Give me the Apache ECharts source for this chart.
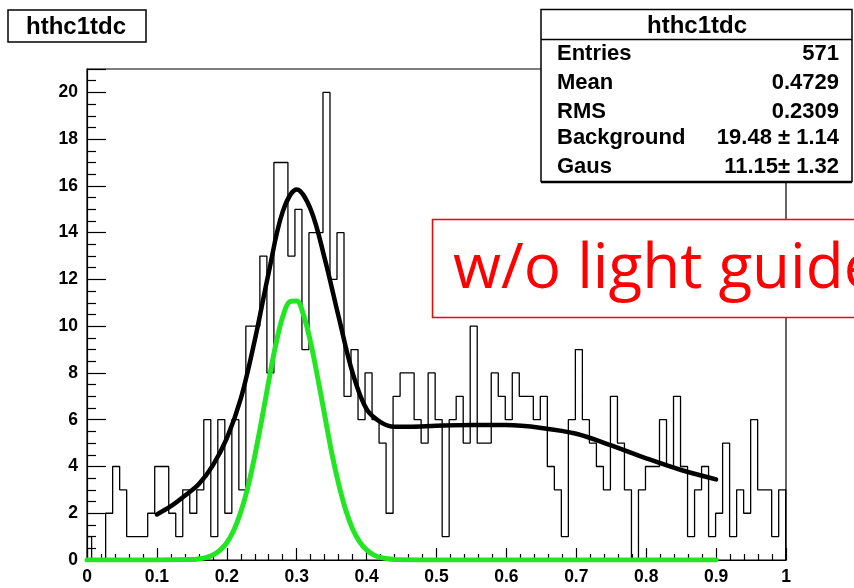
<!DOCTYPE html>
<html>
<head>
<meta charset="utf-8">
<script src="https://cdn.jsdelivr.net/npm/echarts@6/dist/echarts.min.js"></script>
<style>
  html, body { margin: 0; padding: 0; background: #fff; }
  #chart { width: 854px; height: 588px; }
</style>
</head>
<body>
<div id="chart"></div>
<script>
// Histogram hthc1tdc: 99 full bins plus one clipped bin at the left edge
const histName = 'hthc1tdc';
const binStart = 0.0066;     // lower edge of the first full bin
const binWidth = 0.01003;    // bin width
const clippedBinCount = 1;   // content of the partial bin between 0 and binStart
const binCounts = [
  0, 0, 2, 4, 3, 1, 1, 1, 2, 4,
  4, 2, 1, 3, 2, 3, 6, 1, 6, 2,
  6, 3, 10, 10, 13, 8, 17, 17, 13, 15,
  9, 14, 14, 20, 12, 14, 7, 9, 6, 8,
  6, 5, 2, 7, 8, 8, 6, 5, 8, 6,
  1, 6, 7, 5, 10, 5, 5, 8, 7, 6,
  8, 7, 7, 6, 7, 4, 3, 1, 6, 9,
  6, 5, 4, 3, 7, 5, 3, 0, 3, 4,
  4, 6, 4, 7, 4, 1, 3, 4, 1, 2,
  5, 1, 3, 2, 6, 3, 3, 1, 3
];

// Total fit (background + gaussian) over the fit range 0.1 - 0.9
const fitTotalX = [0.10, 0.12, 0.14, 0.16, 0.18, 0.20, 0.22, 0.24, 0.26, 0.28,
                   0.30, 0.32, 0.34, 0.36, 0.38, 0.40, 0.42, 0.44, 0.46, 0.50,
                   0.55, 0.60, 0.65, 0.70, 0.75, 0.80, 0.85, 0.90];
const fitTotalY = [1.95, 2.3, 2.75, 3.25, 4.05, 5.2, 6.9, 9.4, 12.3, 14.9,
                   15.85, 15.0, 12.9, 10.4, 8.0, 6.45, 5.9, 5.7, 5.7, 5.74,
                   5.77, 5.77, 5.65, 5.4, 4.9, 4.35, 3.85, 3.45];

// Gaussian component of the fit, drawn from 0 to 0.9
const gausX = [0.00, 0.10, 0.15, 0.16, 0.17, 0.18, 0.19, 0.20, 0.21, 0.22,
               0.23, 0.24, 0.25, 0.26, 0.27, 0.28, 0.29, 0.30, 0.31, 0.32,
               0.33, 0.34, 0.35, 0.36, 0.37, 0.38, 0.39, 0.40, 0.41, 0.42,
               0.43, 0.44, 0.45, 0.50, 0.90];
const gausY = [0, 0, 0.02, 0.05, 0.1, 0.21, 0.41, 0.74, 1.27, 2.05,
               3.1, 4.45, 6.0, 7.65, 9.2, 10.4, 11.05, 11.08, 10.45, 9.3,
               7.8, 6.2, 4.6, 3.25, 2.15, 1.33, 0.78, 0.43, 0.22, 0.11,
               0.05, 0.02, 0.01, 0, 0];

// Statistics box
const statLabels = ['Entries', 'Mean', 'RMS', 'Background', 'Gaus'];
const statValues = ['571', '0.4729', '0.2309', '19.48 \u00b1 1.14', '11.15\u00b1 1.32'];
const statRowY = [54, 83, 112, 138, 167];

const annotation = 'w/o light guide';

// Step outline of the histogram: one point per lower bin edge
const histPoints = [[0, clippedBinCount]];
binCounts.forEach((c, k) => histPoints.push([binStart + k * binWidth, c]));
histPoints.push([binStart + binCounts.length * binWidth, 0]);

const zip = (xs, ys) => xs.map((x, i) => [x, ys[i]]);

const axisFont = { fontFamily: 'Liberation Sans, Arial, sans-serif', fontWeight: 'bold', fontSize: 17.5, color: '#000' };
const statFont = 'bold 22px "Liberation Sans", Arial, sans-serif';

const chart = echarts.init(document.getElementById('chart'), null, { renderer: 'canvas' });

chart.setOption({
  animation: false,
  backgroundColor: '#fff',
  grid: {
    left: 87, right: 68, top: 69, bottom: 28,
    show: true, borderColor: '#000', borderWidth: 1.2, backgroundColor: 'transparent'
  },
  xAxis: {
    type: 'value', min: 0, max: 1, interval: 0.1,
    axisLine: { show: true, lineStyle: { color: '#000', width: 1.2 } },
    axisTick: { show: true, inside: true, length: 12, lineStyle: { color: '#000', width: 1.2 } },
    minorTick: { show: true, splitNumber: 5, length: 6, lineStyle: { color: '#000', width: 1.2 } },
    splitLine: { show: false },
    axisLabel: Object.assign({ margin: 8, formatter: v => (v === 0 ? '0' : v === 1 ? '1' : v.toFixed(1)) }, axisFont)
  },
  yAxis: {
    type: 'value', min: 0, max: 21, interval: 2,
    axisLine: { show: true, lineStyle: { color: '#000', width: 1.2 } },
    axisTick: { show: true, inside: true, length: 19, lineStyle: { color: '#000', width: 1.2 } },
    minorTick: { show: true, splitNumber: 4, length: 9, lineStyle: { color: '#000', width: 1.2 } },
    splitLine: { show: false },
    axisLabel: Object.assign({ margin: 9, showMaxLabel: false, formatter: v => (v % 2 === 0 ? String(v) : '') }, axisFont)
  },
  series: [
    {
      name: histName, type: 'line', step: 'end', data: histPoints,
      showSymbol: false, symbol: 'none',
      lineStyle: { color: '#000', width: 1.3 }, z: 2
    },
    {
      name: 'total', type: 'line', smooth: 0.35, data: zip(fitTotalX, fitTotalY),
      showSymbol: false, symbol: 'none',
      lineStyle: { color: '#000', width: 4.5, cap: 'round', join: 'round' }, z: 3
    },
    {
      name: 'gaus', type: 'line', smooth: 0.35, data: zip(gausX, gausY),
      showSymbol: false, symbol: 'none',
      lineStyle: { color: '#22e622', width: 5, cap: 'round', join: 'round' }, z: 4
    }
  ],
  graphic: [
    // title box, top left
    { type: 'rect', z: 100, shape: { x: 8, y: 10, width: 138, height: 32 },
      style: { fill: '#fff', stroke: '#000', lineWidth: 1.5 } },
    { type: 'text', z: 101, x: 76, y: 27,
      style: { text: histName, font: 'bold 24px "Liberation Sans", Arial, sans-serif', fill: '#000', align: 'center', verticalAlign: 'middle' } },

    // statistics box
    { type: 'rect', z: 100, shape: { x: 541, y: 9.5, width: 311, height: 172 },
      style: { fill: '#fff', stroke: '#000', lineWidth: 1.5 } },
    { type: 'line', z: 101, shape: { x1: 541, y1: 39.5, x2: 852, y2: 39.5 },
      style: { stroke: '#000', lineWidth: 1.5 } },
    { type: 'line', z: 101, shape: { x1: 541, y1: 182.5, x2: 852, y2: 182.5 },
      style: { stroke: '#000', lineWidth: 1.5 } },
    { type: 'text', z: 101, x: 697, y: 26,
      style: { text: histName, font: 'bold 24px "Liberation Sans", Arial, sans-serif', fill: '#000', align: 'center', verticalAlign: 'middle' } },
    ...statLabels.map((t, i) => ({ type: 'text', z: 101, x: 557, y: statRowY[i],
      style: { text: t, font: statFont, fill: '#000', align: 'left', verticalAlign: 'middle' } })),
    ...statValues.map((t, i) => ({ type: 'text', z: 101, x: 839, y: statRowY[i],
      style: { text: t, font: statFont, fill: '#000', align: 'right', verticalAlign: 'middle' } })),

    // annotation box
    { type: 'rect', z: 100, shape: { x: 432.5, y: 219.5, width: 440, height: 98 },
      style: { fill: '#fff', stroke: '#ff0000', lineWidth: 1.5 } },
    { type: 'text', z: 101, x: 453, y: 270,
      style: { text: annotation, font: '62px "Open Sans", "Noto Sans", sans-serif', fill: '#ff0000', align: 'left', verticalAlign: 'middle' } }
  ]
});
</script>
</body>
</html>
